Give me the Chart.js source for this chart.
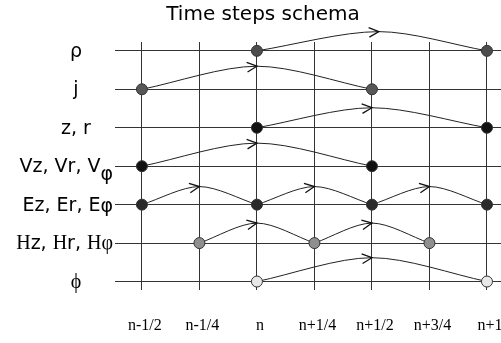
<!DOCTYPE html>
<html>
<head>
<meta charset="utf-8">
<script src="https://cdn.jsdelivr.net/npm/chart.js@4.4.1/dist/chart.umd.min.js"></script>
<style>
  html, body { margin: 0; padding: 0; background: #fff; }
  #wrap { width: 501px; height: 343px; }
</style>
</head>
<body>
<div id="wrap"><canvas id="schema" width="501" height="343"></canvas></div>
<script>
// === Data ===
const stepValues = [-0.5, -0.25, 0, 0.25, 0.5, 0.75, 1];
const stepLabels = ['n-1/2', 'n-1/4', 'n', 'n+1/4', 'n+1/2', 'n+3/4', 'n+1'];
const rowLabels = ['ρ', 'j', 'z, r', 'Vz, Vr, Vφ', 'Ez, Er, Eφ', 'Hz, Hr, Hφ', 'ϕ'];
const rowValues = [6, 5, 4, 3, 2, 1, 0];
// time positions of the nodes on each row
const rowNodes = [[0, 1], [-0.5, 0.5], [0, 1], [-0.5, 0.5], [-0.5, 0, 0.5, 1], [-0.25, 0.25, 0.75], [0, 1]];
// apex of each arrow between two nodes (x) and how high it rises above its row
const arcPeaks = [[0.53], [0.0], [0.5], [0.0], [-0.25, 0.25, 0.75], [0.0, 0.5], [0.5]];
const arcRise = [[0.5], [0.6], [0.52], [0.6], [0.47, 0.47, 0.47], [0.52, 0.52], [0.62]];

// === Styles ===
const nodeFill = ['#4d4d4d', '#575757', '#111111', '#111111', '#2a2a2a', '#8f8f8f', '#e8e8e8'];
const subDy = [0, 0, 0, 8, 1, 0, 0];
const SANS = '19px "DejaVu Sans"';
const SERIF = '20px "Liberation Serif"';

const datasets = [];
rowNodes.forEach((xs, i) => {
    datasets.push({
        label: rowLabels[i],
        data: xs.map(x => ({ x: x, y: rowValues[i] })),
        showLine: false,
        pointRadius: 5.5,
        pointBackgroundColor: nodeFill[i],
        pointBorderColor: '#333',
        pointBorderWidth: 1,
        order: 0,
        clip: false
    });
});
rowNodes.forEach((xs, i) => {
    arcPeaks[i].forEach((px, k) => {
        datasets.push({
            label: 'arc',
            isArc: true,
            data: [
                { x: xs[k], y: rowValues[i] },
                { x: px, y: rowValues[i] + arcRise[i][k] },
                { x: xs[k + 1], y: rowValues[i] }
            ],
            showLine: true,
            tension: 0.3,
            borderColor: '#222',
            borderWidth: 1,
            pointRadius: 0,
            order: 1,
            clip: false
        });
    });
});

const decor = {
    id: 'decor',
    afterDatasetsDraw(chart) {
        const ctx = chart.ctx;
        // arrow heads at each arc apex
        ctx.save();
        ctx.strokeStyle = '#111';
        ctx.lineWidth = 1.3;
        chart.data.datasets.forEach((ds, di) => {
            if (!ds.isArc) return;
            const pts = chart.getDatasetMeta(di).data;
            const s = pts[0], a = pts[1];
            const ang = Math.atan2(a.y - s.y, a.x - s.x) * 0.5;
            const len = 11, spread = 0.45;
            ctx.beginPath();
            ctx.moveTo(a.x + len * Math.cos(ang + Math.PI - spread), a.y + len * Math.sin(ang + Math.PI - spread));
            ctx.lineTo(a.x, a.y);
            ctx.lineTo(a.x + len * Math.cos(ang + Math.PI + spread), a.y + len * Math.sin(ang + Math.PI + spread));
            ctx.stroke();
        });
        ctx.restore();
    },
    afterDraw(chart) {
        const ctx = chart.ctx;
        const xScale = chart.scales.x;
        const yScale = chart.scales.y;
        ctx.save();
        ctx.fillStyle = '#000';
        ctx.textBaseline = 'alphabetic';
        // title
        ctx.font = '20px "DejaVu Sans"';
        ctx.textAlign = 'center';
        ctx.fillText('Time steps schema', 263, 20);
        // time step labels under the grid
        ctx.font = '16px "Liberation Serif"';
        stepValues.forEach((v, i) => {
            ctx.fillText(stepLabels[i], xScale.getPixelForValue(v) + 3, chart.chartArea.bottom + 40);
        });
        // row labels
        ctx.textAlign = 'left';
        rowLabels.forEach((text, i) => {
            const segs = [];
            const chars = Array.from(text);
            chars.forEach((ch, ci) => {
                let font = SANS, dy = 0;
                if (i === 6) font = SERIF;
                if (i === 5 && (ch === 'H' || ch === 'φ')) font = SERIF;
                if (ch === 'φ' && ci === chars.length - 1) dy = subDy[i];
                const last = segs[segs.length - 1];
                if (last && last.font === font && last.dy === dy) last.t += ch;
                else segs.push({ t: ch, font: font, dy: dy });
            });
            let w = 0;
            segs.forEach(sg => { ctx.font = sg.font; sg.w = ctx.measureText(sg.t).width; w += sg.w; });
            let x = w > 60 ? 113 - w : 76 - w / 2;
            const base = yScale.getPixelForValue(rowValues[i]) + 6;
            segs.forEach(sg => {
                ctx.font = sg.font;
                ctx.fillText(sg.t, x, base + sg.dy);
                x += sg.w;
            });
        });
        ctx.restore();
    }
};

new Chart(document.getElementById('schema').getContext('2d'), {
    type: 'scatter',
    data: { datasets: datasets },
    options: {
        responsive: false,
        animation: false,
        devicePixelRatio: 1,
        layout: { autoPadding: false, padding: { left: 115, top: 42, right: 0, bottom: 53 } },
        plugins: { legend: { display: false }, title: { display: false }, tooltip: { enabled: false } },
        scales: {
            x: {
                type: 'linear',
                min: -0.617,
                max: 1.061,
                afterBuildTicks: axis => { axis.ticks = stepValues.map(v => ({ value: v })); },
                grid: { color: '#333', lineWidth: 1, drawTicks: false },
                border: { display: false },
                ticks: { display: false }
            },
            y: {
                type: 'linear',
                min: -0.22,
                max: 6.23,
                afterBuildTicks: axis => { axis.ticks = rowValues.map(v => ({ value: v })); },
                grid: { color: '#333', lineWidth: 1, drawTicks: false },
                border: { display: false },
                ticks: { display: false }
            }
        }
    },
    plugins: [decor]
});
</script>
</body>
</html>
